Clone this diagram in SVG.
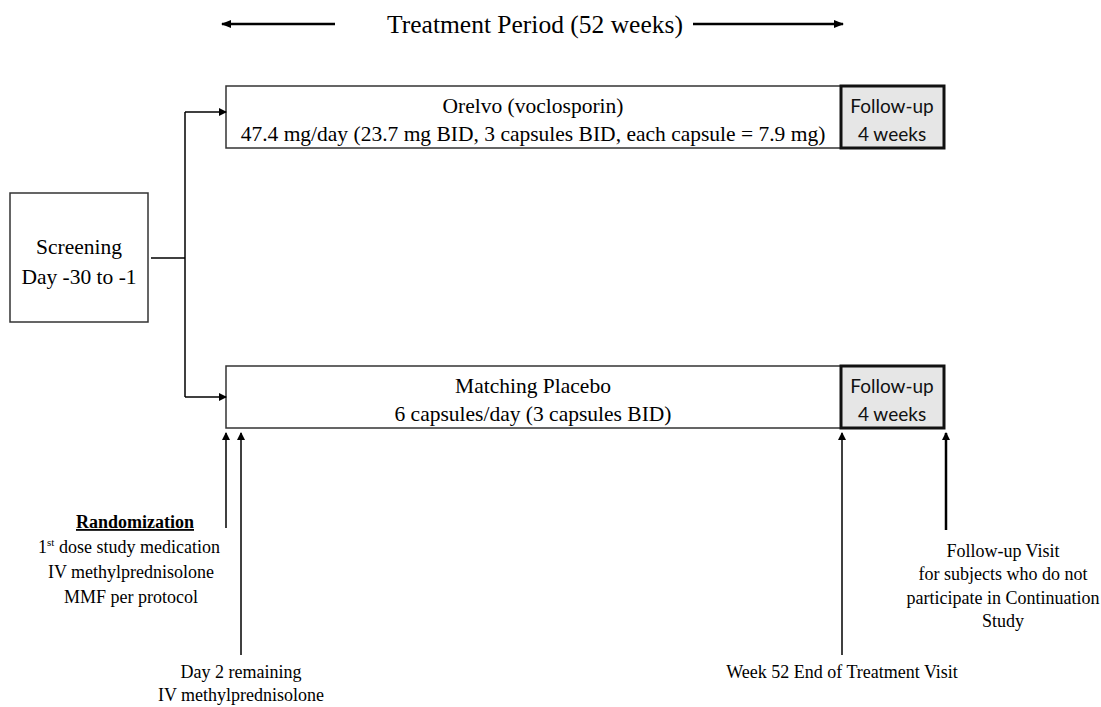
<svg xmlns="http://www.w3.org/2000/svg" width="1101" height="707" viewBox="0 0 1101 707">
<defs>
<marker id="ah" markerWidth="10" markerHeight="8" refX="9" refY="4" orient="auto" markerUnits="userSpaceOnUse">
<path d="M0,0 L10,4 L0,8 Z" fill="#000"/>
</marker>
<marker id="ahs" markerWidth="8" markerHeight="8" refX="7" refY="4" orient="auto" markerUnits="userSpaceOnUse">
<path d="M0,0 L8,4 L0,8 Z" fill="#000"/>
</marker>
<style>
.box{fill:#fff;stroke:#333;stroke-width:1.5}
.fu{fill:#e6e6e6;stroke:#111;stroke-width:3}
.ln{stroke:#000;stroke-width:1.5;fill:none}
.t{font-family:"Liberation Serif","Times New Roman",serif;fill:#000;text-anchor:middle}
.s{font-family:Lato,"Liberation Sans",sans-serif;fill:#111;text-anchor:middle;font-size:19px}
</style>
</defs>
<rect width="1101" height="707" fill="#fff"/>

<g id="title">
<text class="t" x="535" y="33" font-size="25.5">Treatment Period (52 weeks)</text>
</g>

<g id="screening">
<rect class="box" x="10" y="193" width="138" height="129"/>
<text class="t" x="79" y="254" font-size="21.5">Screening</text>
<text class="t" x="79" y="284" font-size="21.5">Day -30 to -1</text>
</g>

<g id="orelvo">
<rect class="box" x="226" y="86" width="615" height="62"/>
<text class="t" x="533" y="113" font-size="21.5">Orelvo (voclosporin)</text>
<text class="t" x="533" y="141" font-size="21.5">47.4 mg/day (23.7 mg BID, 3 capsules BID, each capsule = 7.9 mg)</text>
</g>
<g id="followup1">
<rect class="fu" x="841" y="86" width="103" height="62"/>
<text class="s" x="892" y="113">Follow-up</text>
<text class="s" x="892" y="141">4 weeks</text>
</g>

<g id="placebo">
<rect class="box" x="226" y="366" width="615" height="62"/>
<text class="t" x="533" y="393" font-size="21.5">Matching Placebo</text>
<text class="t" x="533" y="421" font-size="21.5">6 capsules/day (3 capsules BID)</text>
</g>
<g id="followup2">
<rect class="fu" x="841" y="366" width="103" height="62"/>
<text class="s" x="892" y="393">Follow-up</text>
<text class="s" x="892" y="421">4 weeks</text>
</g>

<g id="connectors">
<line x1="335" y1="24" x2="222" y2="24" stroke="#000" stroke-width="2.5" marker-end="url(#ah)"/>
<line x1="693" y1="24" x2="843" y2="24" stroke="#000" stroke-width="2.5" marker-end="url(#ah)"/>
<line class="ln" x1="151" y1="258" x2="185" y2="258"/>
<polyline class="ln" points="185,112 185,397"/>
<line class="ln" x1="185" y1="112" x2="226" y2="112" marker-end="url(#ahs)"/>
<line class="ln" x1="185" y1="397" x2="226" y2="397" marker-end="url(#ahs)"/>
<line class="ln" x1="226" y1="528" x2="226" y2="433" marker-end="url(#ahs)"/>
<line class="ln" x1="241" y1="655" x2="241" y2="433" marker-end="url(#ahs)"/>
<line class="ln" x1="842" y1="655" x2="842" y2="433" marker-end="url(#ahs)"/>
<line x1="946" y1="530" x2="946" y2="433" stroke="#000" stroke-width="2.5" marker-end="url(#ahs)"/>
</g>

<g id="label-randomization">
<text class="t" x="135" y="528" font-size="18" font-weight="bold" text-decoration="underline">Randomization</text>
<text class="t" x="129" y="553" font-size="18">1<tspan font-size="11" dy="-7">st</tspan><tspan dy="7"> dose study medication</tspan></text>
<text class="t" x="131" y="578" font-size="18">IV methylprednisolone</text>
<text class="t" x="131" y="603" font-size="18">MMF per protocol</text>
</g>
<g id="label-day2">
<text class="t" x="241" y="678" font-size="18">Day 2 remaining</text>
<text class="t" x="241" y="701" font-size="18">IV methylprednisolone</text>
</g>
<g id="label-week52">
<text class="t" x="842" y="678" font-size="18">Week 52 End of Treatment Visit</text>
</g>
<g id="label-followup">
<text class="t" x="1003" y="557" font-size="18">Follow-up Visit</text>
<text class="t" x="1003" y="580" font-size="18">for subjects who do not</text>
<text class="t" x="1003" y="604" font-size="18">participate in Continuation</text>
<text class="t" x="1003" y="627" font-size="18">Study</text>
</g>
</svg>
